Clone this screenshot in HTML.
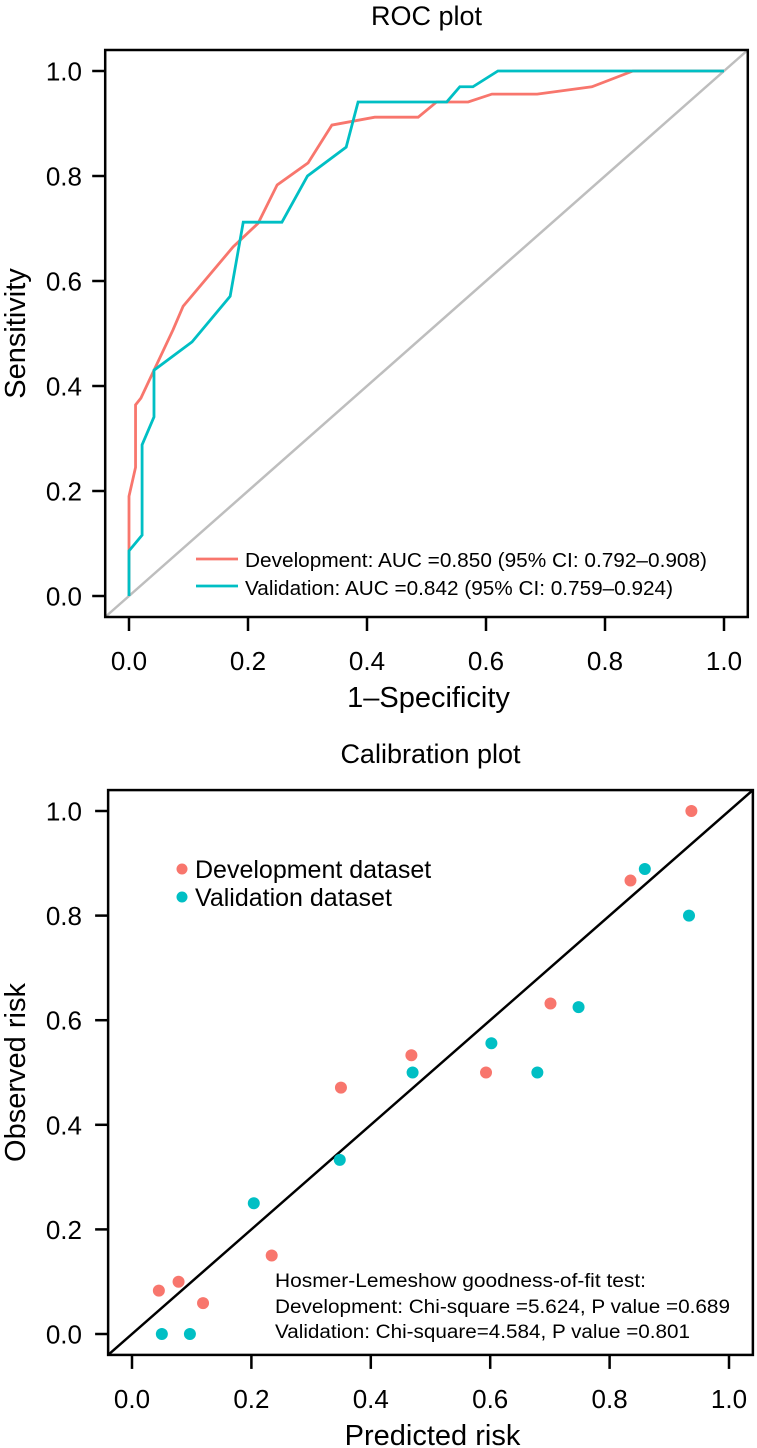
<!DOCTYPE html>
<html><head><meta charset="utf-8"><style>
html,body{margin:0;padding:0;background:#fff}
svg{display:block;font-family:"Liberation Sans",Arial,sans-serif}
</style></head><body>
<svg id="c" width="757" height="1448" viewBox="0 0 757 1448" xmlns="http://www.w3.org/2000/svg"></svg>
<script>
// ROC data
const devFpr=[0,0,0.011,0.011,0.02,0.042,0.074,0.091,0.175,0.217,0.249,0.301,0.341,0.413,0.486,0.517,0.57,0.61,0.686,0.778,0.847,1.0];
const devTpr=[0,0.19,0.245,0.364,0.377,0.43,0.507,0.552,0.665,0.71,0.783,0.825,0.897,0.912,0.912,0.941,0.941,0.956,0.956,0.970,1.0,1.0];
const valFpr=[0,0,0.022,0.022,0.042,0.042,0.106,0.17,0.192,0.257,0.3,0.365,0.385,0.534,0.556,0.578,0.62,1.0];
const valTpr=[0,0.086,0.116,0.288,0.341,0.43,0.484,0.571,0.712,0.712,0.8,0.855,0.941,0.941,0.97,0.97,1.0,1.0];
const tickVals=[0,0.2,0.4,0.6,0.8,1.0];
const tickLabels=["0.0","0.2","0.4","0.6","0.8","1.0"];
// Calibration data
const devPred=[0.045,0.078,0.119,0.234,0.35,0.468,0.593,0.701,0.835,0.937];
const devObs=[0.083,0.1,0.059,0.15,0.471,0.533,0.5,0.632,0.867,1.0];
const valPred=[0.05,0.097,0.204,0.348,0.47,0.602,0.679,0.748,0.859,0.933];
const valObs=[0,0,0.25,0.333,0.5,0.556,0.5,0.625,0.889,0.8];

const RED="#F8766D",TEAL="#00BFC4";
const svg=document.getElementById('c');
const NS="http://www.w3.org/2000/svg";
function mk(tag,attrs,parent,text){const e=document.createElementNS(NS,tag);for(const k in attrs)e.setAttribute(k,attrs[k]);if(text!==undefined)e.textContent=text;(parent||svg).appendChild(e);return e;}

function panel(o){
  const g=mk('g',{});
  
  
  const X=v=>o.x0+v*o.xs, Y=v=>o.y0-v*o.ys;
  const L=X(-0.04),R=X(1.04),T=Y(1.04),B=Y(-0.04);
  const d=mk('line',{x1:L,y1:B,x2:R,y2:T,stroke:o.diag,'stroke-width':o.diagW},g);
  
  
  const bx=mk('rect',{x:L,y:T,width:R-L,height:B-T,fill:'none',stroke:'#000','stroke-width':2.5},g);
  
  
  tickVals.forEach((v,i)=>{
    const t1=mk('line',{x1:X(v),y1:B,x2:X(v),y2:B+14,stroke:'#000','stroke-width':2.5},g);
    
    
    const l1=mk('text',{x:X(v),y:B+53,'font-size':26,'text-anchor':'middle',fill:'#000'},g,tickLabels[i]);
    
    
    const t2=mk('line',{x1:L,y1:Y(v),x2:L-13,y2:Y(v),stroke:'#000','stroke-width':2.5},g);
    
    
    const l2=mk('text',{x:82,y:Y(v)+9.5,'font-size':26,'text-anchor':'end',fill:'#000'},g,tickLabels[i]);
    
    
  });
  const tt=mk('text',{x:(L+R)/2,y:o.titleY,'font-size':27,'text-anchor':'middle'},g,o.title);
  
  
  const xt=mk('text',{x:(L+R)/2+2,y:B+90,'font-size':29,'text-anchor':'middle'},g,o.xTitle);
  
  
  const cy=(T+B)/2;
  const yt=mk('text',{x:25,y:cy,'font-size':29,'text-anchor':'middle',transform:`rotate(-90 25 ${cy})`},g,o.yTitle);
  
  
  return {g,X,Y};
}

const roc=panel({name:'roc-plot',x0:129,xs:595,y0:596,ys:525,diag:'#bebebe',diagW:2.5,title:'ROC plot',titleY:25,xTitle:'1\u2013Specificity',yTitle:'Sensitivity'});
function curve(xs,ys,col,name){
  const pts=xs.map((v,i)=>roc.X(v)+','+roc.Y(ys[i])).join(' ');
  const p=mk('polyline',{points:pts,fill:'none',stroke:col,'stroke-width':2.8,'stroke-linejoin':'miter'},roc.g);
  
  
}
curve(devFpr,devTpr,RED,'development-roc-curve');
curve(valFpr,valTpr,TEAL,'validation-roc-curve');
const rocLeg=[[RED,'Development: AUC =0.850 (95% CI: 0.792\u20130.908)',559,567,462],[TEAL,'Validation: AUC =0.842 (95% CI: 0.759\u20130.924)',586,595,428]];
rocLeg.forEach(([c,t,ly,ty,w])=>{
  const ln=mk('line',{x1:196,y1:ly,x2:238,y2:ly,stroke:c,'stroke-width':2.8},roc.g);
  
  
  const tx=mk('text',{x:245,y:ty,'font-size':20,textLength:w,lengthAdjust:'spacingAndGlyphs'},roc.g,t);
  
  
});

const cal=panel({name:'calibration-plot',x0:132,xs:597,y0:1334,ys:523,diag:'#000',diagW:2.5,title:'Calibration plot',titleY:763,xTitle:'Predicted risk',yTitle:'Observed risk'});
devPred.forEach((v,i)=>{
  const c=mk('circle',{cx:cal.X(v),cy:cal.Y(devObs[i]),r:6,fill:RED},cal.g);
  
  
});
valPred.forEach((v,i)=>{
  const c=mk('circle',{cx:cal.X(v),cy:cal.Y(valObs[i]),r:6,fill:TEAL},cal.g);
  
  
});
[[RED,'Development dataset',869],[TEAL,'Validation dataset',897]].forEach(([c,t,y])=>{
  const d=mk('circle',{cx:182,cy:y,r:5.5,fill:c},cal.g);
  
  
  const tx=mk('text',{x:195,y:y+9,'font-size':25},cal.g,t);
  
  
});
[['Hosmer-Lemeshow goodness-of-fit test:',1287,371],['Development: Chi-square =5.624, P value =0.689',1313,455],['Validation: Chi-square=4.584, P value =0.801',1338,415]].forEach(([t,y,w])=>{
  const tx=mk('text',{x:275,y:y,'font-size':19,textLength:w,lengthAdjust:'spacingAndGlyphs'},cal.g,t);
  
  
});
</script>
</body></html>
